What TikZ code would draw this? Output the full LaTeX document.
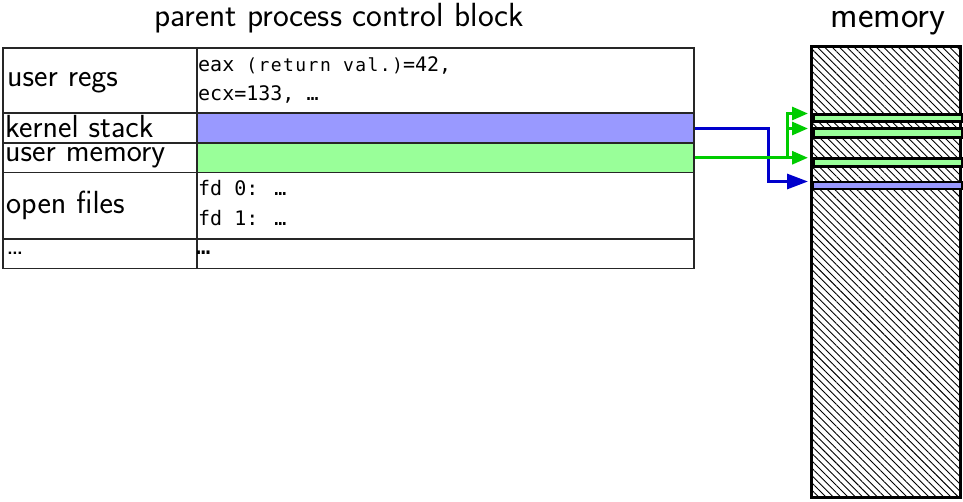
\documentclass[tikz,border=0pt]{standalone}
\usepackage{fontspec}
\newfontfamily\monof{DejaVu Sans Mono}
\newfontfamily\monosmall{DejaVu Sans Mono}[LetterSpace=8]
\usetikzlibrary{arrows.meta,patterns.meta,calc}
\definecolor{kblue}{RGB}{153,153,255}
\definecolor{ugreen}{RGB}{153,255,153}
\definecolor{ablue}{RGB}{0,0,204}
\definecolor{agreen}{RGB}{0,204,0}
\begin{document}
\begin{tikzpicture}[x=1pt,y=-1pt,
  cell/.style={draw=black!85,line width=1.5pt,rectangle,anchor=north west,inner sep=0pt,minimum height=#1},
  lcell/.style={cell=#1,minimum width=194pt},
  vcell/.style={cell=#1,minimum width=497pt},
  lbl/.style={anchor=base west,inner sep=0pt,font=\sffamily\fontsize{32}{36}\selectfont},
  mono/.style={anchor=base west,inner sep=0pt,font=\monof\fontsize{20}{22}\selectfont},
  ttl/.style={anchor=base,inner sep=0pt,font=\sffamily},
  memstrip/.style={draw=black,line width=3pt,rectangle,inner sep=0pt,minimum width=149pt,anchor=north west},
  garrow/.style={draw=agreen,line width=3pt,-{Triangle[length=16pt,width=13pt]}},
  barrow/.style={draw=ablue,line width=3pt,-{Triangle[length=21pt,width=15pt]}},
]
\useasboundingbox (0,0) rectangle (963,502);
% titles
\node[ttl,font=\sffamily\fontsize{33.5}{36}\selectfont] (title) at (339,27) {parent process control block};
\node[ttl,font=\sffamily\fontsize{37}{40}\selectfont] (memtitle) at (888,28) {memory};
% table
\node[lcell=65pt] (l1) at (2,47.3) {};
\node[vcell=65pt] (v1) at (196,47.3) {};
\node[lcell=30pt] (l2) at (2,112.3) {};
\node[vcell=30pt,fill=kblue] (v2) at (196,112.3) {};
\node[lcell=29.4pt] (l3) at (2,142.3) {};
\node[vcell=29.4pt,fill=ugreen] (v3) at (196,142.3) {};
\node[lcell=66.6pt] (l4) at (2,171.7) {};
\node[vcell=66.6pt] (v4) at (196,171.7) {};
\node[lcell=29.4pt] (l5) at (2,238.3) {};
\node[vcell=29.4pt] (v5) at (196,238.3) {};
% labels
\node[lbl] (t1) at (7,87) {user regs};
\node[lbl] (t2) at (5,138) {kernel stack};
\node[lbl] (t3) at (5,162) {user memory};
\node[lbl] (t4) at (6,214) {open files};
\node[lbl,font=\sffamily\fontsize{30}{32}\selectfont] (t5) at (6,255) {\dots};
\node[mono] (m1a) at (198,72) {eax {\monosmall\fontsize{18}{18}\selectfont(return val.)}=42,};
\node[mono] (m1b) at (198,101) {ecx=133, …};
\node[mono] (m4a) at (198,196) {fd 0: …};
\node[mono] (m4b) at (198,226) {fd 1: …};
\node[mono,font=\monof\fontsize{24}{26}\selectfont] (m5) at (196,255) {…};
% memory
\node[draw=black,line width=3pt,rectangle,inner sep=0pt,anchor=north west,minimum width=149pt,minimum height=451pt,
  pattern={Lines[angle=-45,distance=5.2pt,line width=0.9pt]}] (mem) at (811.5,46.5) {};
\node[memstrip,fill=ugreen,minimum height=7pt] (s1) at (811.5,113) {};
\node[memstrip,fill=ugreen,minimum height=8.5pt] (s2) at (811.5,127.5) {};
\node[memstrip,fill=ugreen,minimum height=8pt] (s3) at (811.5,157.5) {};
\node[memstrip,fill=kblue,line width=2.5pt,minimum height=7pt] (sb) at (811.5,181) {};
% arrow targets
\coordinate (p1) at (808,113.5);
\coordinate (p2) at (808,128.5);
\coordinate (p3) at (808,157.5);
\coordinate (pb) at (808,181.5);
\coordinate (gx) at (787,0);
\coordinate (bx) at (768,0);
% connectors
\draw[barrow] (v2.east) -- (v2.east -| bx) |- (pb);
\draw[garrow] (v3.east) -- (v3.east -| p3);
\draw[garrow] (v3.east -| gx) |- (p1);
\draw[garrow] (gx |- p2) -- (p2);
\end{tikzpicture}
\end{document}
